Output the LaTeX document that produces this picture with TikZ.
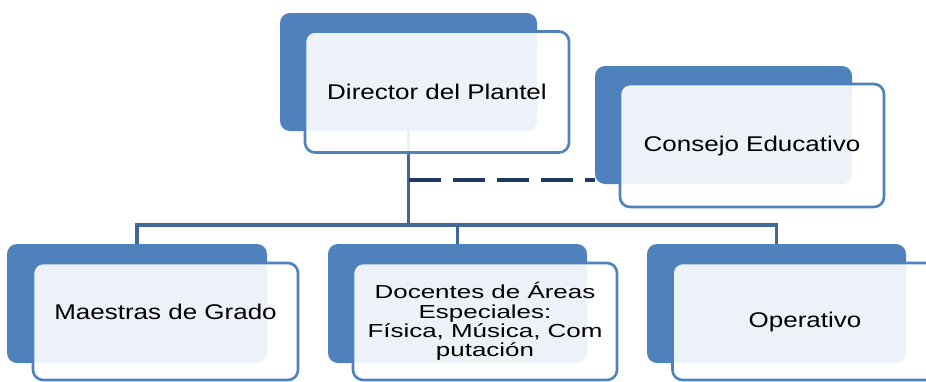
\documentclass[tikz,border=0pt]{standalone}
\usepackage{fontspec}
\setmainfont{Liberation Sans}[FakeStretch=1.22]
\newfontfamily\docfont{Liberation Sans}[FakeStretch=1.38]
\usepackage{tikz}
\usetikzlibrary{positioning,calc,backgrounds}
\definecolor{boxblue}{HTML}{4F81BD}
\definecolor{linkblue}{HTML}{41689B}
\definecolor{navy}{HTML}{1F3A60}
\tikzstyle{backbox} = [rectangle, rounded corners=10pt, minimum width=257pt, minimum height=118pt, fill=boxblue, draw=none]
\tikzstyle{frontbox} = [rectangle, rounded corners=10pt, minimum width=264pt, minimum height=121pt, draw=boxblue, line width=2.6pt, fill=white, fill opacity=0.9, text opacity=1, align=center, font=\fontsize{21.3}{25}\selectfont]
\tikzstyle{link} = [linkblue, line width=3.2pt]
\tikzstyle{dashlink} = [navy, line width=4pt, dash pattern=on 32pt off 12pt]

\begin{document}
\begin{tikzpicture}[x=1pt,y=-1pt]
\useasboundingbox (0,0) rectangle (926,381);
\node (dirBack) [backbox] at (408.5,72) {};
\node (dirFront) [frontbox, right=-233.5pt of dirBack, yshift=-20pt] {Director del Plantel};
\node (conBack) [backbox] at (723.5,125) {};
\node (conFront) [frontbox, right=-233.5pt of conBack, yshift=-20.5pt, minimum height=123pt] {Consejo Educativo};
\node (maeBack) [backbox, minimum width=260pt, minimum height=119pt] at (137,303.5) {};
\node (maeFront) [frontbox, minimum width=265pt, minimum height=117pt, label={[yshift=10pt, font=\fontsize{21.3}{25}\selectfont]center:Maestras de Grado}] at (165.5,321.5) {};
\node (docBack) [backbox, minimum width=259pt, minimum height=119pt] at (457.5,303.5) {};
\node (docFront) [frontbox, minimum width=264pt, minimum height=117pt, font=\docfont\fontsize{18.8}{19.2}\selectfont] at (485,321.5) {Docentes de Áreas\\Especiales:\\Física, Música, Com\\putación};
\node (opeBack) [backbox, minimum width=259pt, minimum height=119pt] at (776.5,303.5) {};
\node (opeFront) [frontbox, minimum width=265pt, minimum height=117pt] at (805,321.5) {Operativo};

\begin{scope}[on background layer]
\coordinate (bus) at (408.5,225);
\coordinate (council) at (408.5,180);
\draw [link] (dirBack.south) -- (bus);
\draw [link] (maeBack.north) |- (bus) -| (opeBack.north);
\draw [link] (docBack.north) -- (docBack.north |- bus);
\draw [dashlink] (council) -- (council -| conBack.west);
\end{scope}
\end{tikzpicture}
\end{document}
